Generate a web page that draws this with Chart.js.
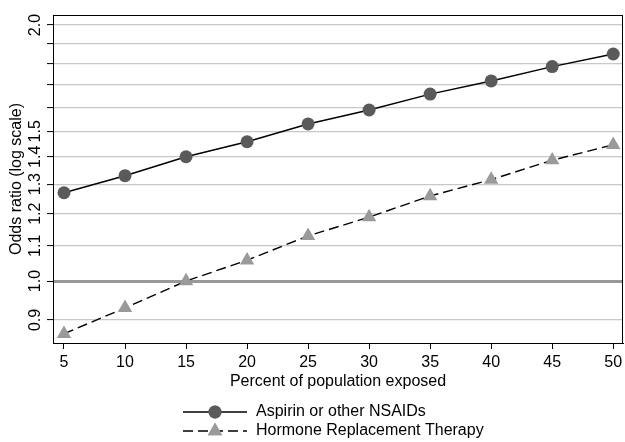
<!DOCTYPE html>
<html>
<head>
<meta charset="utf-8">
<script src="https://cdn.jsdelivr.net/npm/chart.js@4"></script>
<style>
  body { margin: 0; background: #fff; }
  canvas { display: block; }
</style>
</head>
<body>
<canvas id="oddsChart" width="625" height="442"></canvas>
<script>
// percent of population exposed
const percentExposed = [5, 10, 15, 20, 25, 30, 35, 40, 45, 50];

// odds ratios
const aspirinOR = [1.270, 1.330, 1.400, 1.458, 1.530, 1.589, 1.659, 1.719, 1.787, 1.849];
const hrtOR = [0.867, 0.930, 1.000, 1.058, 1.130, 1.189, 1.259, 1.316, 1.387, 1.446];

const seriesNames = ["Aspirin or other NSAIDs", "Hormone Replacement Therapy"];

const xTicks = [5, 10, 15, 20, 25, 30, 35, 40, 45, 50];
const yGridValues = [0.9, 1.0, 1.1, 1.2, 1.3, 1.4, 1.5, 1.6, 1.7, 1.8, 1.9, 2.0];
const yTickLabels = [0.9, 1.0, 1.1, 1.2, 1.3, 1.4, 1.5, 2.0];

const FONT = "'Liberation Sans', Arial, sans-serif";

document.addEventListener("DOMContentLoaded", () => {
  const ctx = document.getElementById("oddsChart");

  // box around plot region + legend under the chart (stacked, like the original)
  const frameAndLegend = {
    id: "frameAndLegend",
    afterDraw(chart) {
      const { ctx, chartArea: a } = chart;
      ctx.save();
      ctx.strokeStyle = "#000";
      ctx.lineWidth = 1;
      ctx.strokeRect(a.left + 0.5, a.top + 0.5, a.right - a.left - 1, a.bottom - a.top);

      const rows = [412, 431];
      chart.data.datasets.forEach((ds, i) => {
        const y = rows[i];
        ctx.beginPath();
        ctx.setLineDash(ds.borderDash || []);
        ctx.strokeStyle = ds.borderColor;
        ctx.lineWidth = ds.borderWidth;
        ctx.moveTo(183, y);
        ctx.lineTo(247, y);
        ctx.stroke();
        ctx.setLineDash([]);
        ctx.fillStyle = ds.pointBackgroundColor;
        Chart.helpers.drawPoint(ctx, {
          pointStyle: ds.pointStyle,
          radius: ds.pointRadius,
          borderWidth: 0,
          rotation: 0
        }, 215, y);
        ctx.fill();
        ctx.fillStyle = "#000";
        ctx.font = "16px " + FONT;
        ctx.textBaseline = "middle";
        ctx.textAlign = "left";
        ctx.fillText(ds.label, 256, y);
      });
      ctx.restore();
    }
  };

  new Chart(ctx, {
    type: "line",
    data: {
      datasets: [
        {
          label: seriesNames[0],
          data: percentExposed.map((x, i) => ({ x, y: aspirinOR[i] })),
          borderColor: "#000",
          borderWidth: 1.4,
          pointStyle: "circle",
          pointRadius: 6.5,
          pointBackgroundColor: "#5a5a5a",
          pointBorderWidth: 0,
          tension: 0
        },
        {
          label: seriesNames[1],
          data: percentExposed.map((x, i) => ({ x, y: hrtOR[i] })),
          borderColor: "#000",
          borderWidth: 1.4,
          borderDash: [10, 5],
          pointStyle: "triangle",
          pointRadius: 8.3,
          pointBackgroundColor: "#9a9a9a",
          pointBorderWidth: 0,
          tension: 0
        }
      ]
    },
    options: {
      responsive: false,
      animation: false,
      layout: { autoPadding: false, padding: { top: 15, right: 2, left: 0, bottom: 49 } },
      plugins: {
        legend: { display: false },
        tooltip: { enabled: false }
      },
      scales: {
        x: {
          type: "linear",
          min: 4.1,
          max: 50.8,
          afterBuildTicks: (scale) => { scale.ticks = xTicks.map(v => ({ value: v })); },
          afterFit: (scale) => {
            scale.height = 50;
            scale.paddingLeft = 0;
            scale.paddingRight = 0;
          },
          grid: {
            drawOnChartArea: false,
            drawTicks: true,
            tickLength: 6,
            tickColor: "#000",
            tickWidth: 1
          },
          border: { display: true, color: "#000", width: 1 },
          ticks: {
            padding: 4,
            color: "#000",
            font: { family: FONT, size: 16 },
            maxRotation: 0,
            autoSkip: false
          },
          title: {
            display: true,
            text: "Percent of population exposed",
            color: "#000",
            font: { family: FONT, size: 16 },
            padding: { top: 0, bottom: 2 }
          }
        },
        y: {
          type: "logarithmic",
          min: 0.8456,
          max: 2.055,
          afterBuildTicks: (scale) => { scale.ticks = yGridValues.map(v => ({ value: v })); },
          afterFit: (scale) => {
            scale.width = 53;
            scale.paddingTop = 0;
            scale.paddingBottom = 0;
          },
          grid: {
            drawTicks: true,
            tickLength: 6,
            tickColor: "#000",
            tickWidth: 1,
            color: (c) => (c.tick && Math.abs(c.tick.value - 1) < 1e-9 ? "#999" : "#c8c8c8"),
            lineWidth: (c) => (c.tick && Math.abs(c.tick.value - 1) < 1e-9 ? 3 : 1.2)
          },
          border: { display: true, color: "#000", width: 1 },
          ticks: {
            padding: 0,
            color: "#000",
            font: { family: FONT, size: 16 },
            minRotation: 90,
            maxRotation: 90,
            crossAlign: "center",
            autoSkip: false,
            callback: (v) => (yTickLabels.some(t => Math.abs(t - v) < 1e-9) ? Number(v).toFixed(1) : "")
          },
          title: {
            display: true,
            text: "Odds ratio (log scale)",
            color: "#000",
            font: { family: FONT, size: 16 },
            padding: { top: 7, bottom: 0 }
          }
        }
      }
    },
    plugins: [frameAndLegend]
  });
});
</script>
</body>
</html>
